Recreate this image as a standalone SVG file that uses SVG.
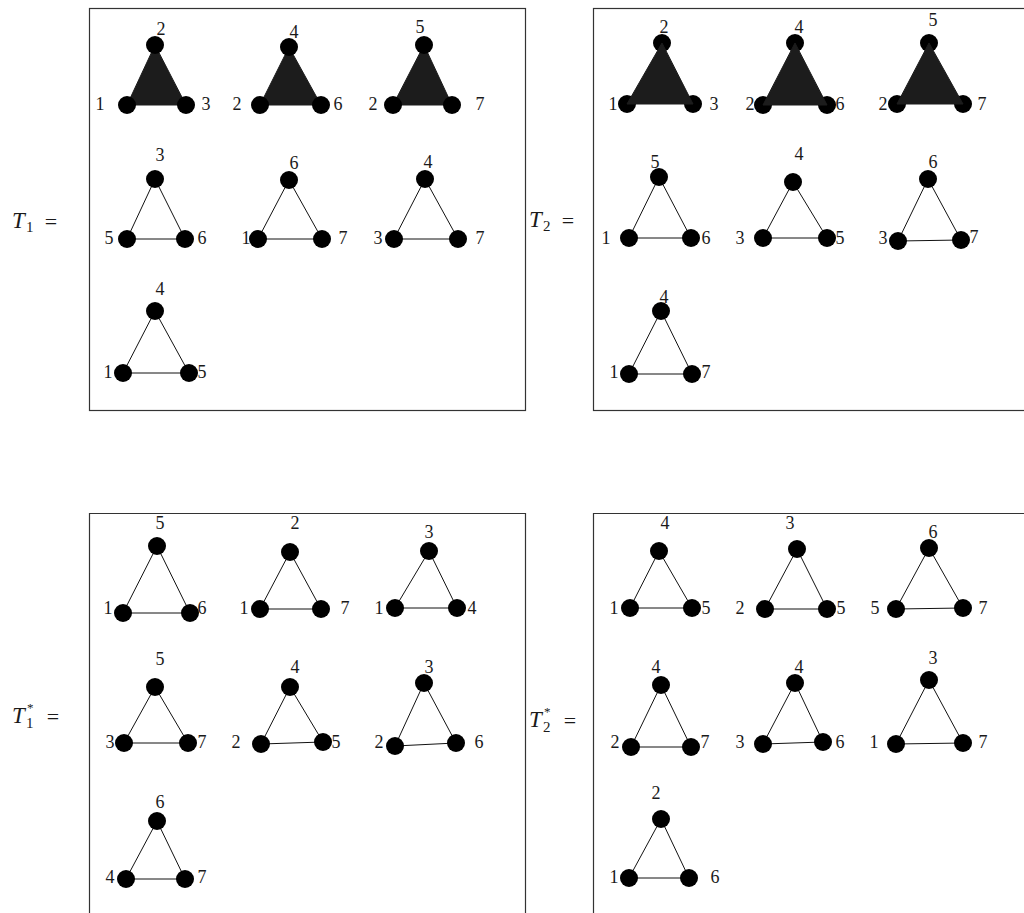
<svg xmlns="http://www.w3.org/2000/svg" width="1024" height="913" viewBox="0 0 1024 913">
<style>
.box{fill:none;stroke:#333;stroke-width:1.2}
.e{stroke:#111;stroke-width:1;fill:none}
.face{fill:#1c1c1c;stroke:#1c1c1c;stroke-width:1;stroke-linejoin:round}
circle{fill:#000}
text{font-family:"Liberation Serif","DejaVu Serif",serif;fill:#1a1a1a}
.l{font-size:18px;text-anchor:middle}
.T{font-size:23px;font-style:italic}
.s{font-size:15px}
.st{font-size:13px}
.eq{font-size:22px;text-anchor:middle}
</style>
<rect width="1024" height="913" fill="#fff"/>
<g id="frames">
<rect class="box" x="89.5" y="8.5" width="436" height="402"/>
<rect class="box" x="593.5" y="8.5" width="440" height="402"/>
<path class="box" d="M89.5,913 V513.5 H525.5 V913"/>
<path class="box" d="M593.5,913 V513.5 H1030"/>
</g>
<g id="titles">
<text class="T" x="12" y="228">T</text><text class="s" x="26" y="232">1</text><text class="eq" x="51" y="229">=</text>
<text class="T" x="529" y="227">T</text><text class="s" x="543" y="231">2</text><text class="eq" x="568" y="228">=</text>
<text class="T" x="12" y="723">T</text><text class="s" x="26" y="728">1</text><text class="st" x="27" y="712">*</text><text class="eq" x="53" y="724">=</text>
<text class="T" x="529" y="727">T</text><text class="s" x="543" y="732">2</text><text class="st" x="544" y="716">*</text><text class="eq" x="570" y="728">=</text>
</g>
<g id="connectors">
<polygon class="face" points="155,45 127,105 186,105"/>
<polygon class="face" points="289,47 260,105 321,105"/>
<polygon class="face" points="424,45 393,105 452,105"/>
<path class="e" d="M155,179 L127,239 L185,239 Z"/>
<path class="e" d="M289,180 L258,239 L322,239 Z"/>
<path class="e" d="M425,179 L394,239 L458,239 Z"/>
<path class="e" d="M155,311 L123,373 L189,373 Z"/>
<path class="e" d="M659,177 L629,238 L691,238 Z"/>
<path class="e" d="M793,182 L763,238 L827,238 Z"/>
<path class="e" d="M928,179 L898,241 L961,240 Z"/>
<path class="e" d="M661,311 L629,374 L692,374 Z"/>
<path class="e" d="M157,546 L123,613 L190,613 Z"/>
<path class="e" d="M290,552 L260,609 L321,609 Z"/>
<path class="e" d="M429,551 L395,608 L457,608 Z"/>
<path class="e" d="M155,687 L124,743 L188,743 Z"/>
<path class="e" d="M290,687 L261,744 L323,742 Z"/>
<path class="e" d="M424,683 L395,746 L456,743 Z"/>
<path class="e" d="M157,821 L126,879 L185,879 Z"/>
<path class="e" d="M659,551 L630,608 L692,608 Z"/>
<path class="e" d="M797,549 L765,609 L827,609 Z"/>
<path class="e" d="M929,548 L896,609 L963,608 Z"/>
<path class="e" d="M661,685 L631,747 L691,747 Z"/>
<path class="e" d="M795,683 L763,744 L823,742 Z"/>
<path class="e" d="M929,680 L896,744 L963,743 Z"/>
<path class="e" d="M661,819 L629,878 L689,878 Z"/>
</g>
<g id="t1a"><circle cx="155" cy="45" r="9"/><text class="l" x="161" y="35">2</text><circle cx="127" cy="105" r="9"/><text class="l" x="100" y="110">1</text><circle cx="186" cy="105" r="9"/><text class="l" x="206" y="110">3</text></g>
<g id="t1b"><circle cx="289" cy="47" r="9"/><text class="l" x="294" y="38">4</text><circle cx="260" cy="105" r="9"/><text class="l" x="237" y="110">2</text><circle cx="321" cy="105" r="9"/><text class="l" x="338" y="110">6</text></g>
<g id="t1c"><circle cx="424" cy="45" r="9"/><text class="l" x="420" y="33">5</text><circle cx="393" cy="105" r="9"/><text class="l" x="373" y="110">2</text><circle cx="452" cy="105" r="9"/><text class="l" x="480" y="110">7</text></g>
<g id="t1d"><circle cx="155" cy="179" r="9"/><text class="l" x="160" y="161">3</text><circle cx="127" cy="239" r="9"/><text class="l" x="109" y="244">5</text><circle cx="185" cy="239" r="9"/><text class="l" x="202" y="244">6</text></g>
<g id="t1e"><circle cx="289" cy="180" r="9"/><text class="l" x="294" y="169">6</text><circle cx="258" cy="239" r="9"/><text class="l" x="246" y="244">1</text><circle cx="322" cy="239" r="9"/><text class="l" x="343" y="244">7</text></g>
<g id="t1f"><circle cx="425" cy="179" r="9"/><text class="l" x="428" y="168">4</text><circle cx="394" cy="239" r="9"/><text class="l" x="378" y="244">3</text><circle cx="458" cy="239" r="9"/><text class="l" x="480" y="244">7</text></g>
<g id="t1g"><circle cx="155" cy="311" r="9"/><text class="l" x="160" y="295">4</text><circle cx="123" cy="373" r="9"/><text class="l" x="108" y="378">1</text><circle cx="189" cy="373" r="9"/><text class="l" x="202" y="378">5</text></g>
<g id="t2a"><circle cx="662" cy="43" r="9"/><text class="l" x="664" y="33">2</text><circle cx="627" cy="104" r="9"/><text class="l" x="613" y="110">1</text><circle cx="693" cy="104" r="9"/><text class="l" x="714" y="110">3</text></g>
<g id="t2b"><circle cx="795" cy="43" r="9"/><text class="l" x="799" y="33">4</text><circle cx="763" cy="105" r="9"/><text class="l" x="750" y="110">2</text><circle cx="827" cy="105" r="9"/><text class="l" x="840" y="110">6</text></g>
<g id="t2c"><circle cx="929" cy="43" r="9"/><text class="l" x="933" y="26">5</text><circle cx="897" cy="104" r="9"/><text class="l" x="883" y="110">2</text><circle cx="963" cy="104" r="9"/><text class="l" x="982" y="110">7</text></g>
<g id="t2-faces">
<polygon class="face" points="662,43 627,104 693,104"/>
<polygon class="face" points="795,43 763,105 827,105"/>
<polygon class="face" points="929,43 897,104 963,104"/>
</g>
<g id="t2d"><circle cx="659" cy="177" r="9"/><text class="l" x="655" y="168">5</text><circle cx="629" cy="238" r="9"/><text class="l" x="606" y="244">1</text><circle cx="691" cy="238" r="9"/><text class="l" x="706" y="244">6</text></g>
<g id="t2e"><circle cx="793" cy="182" r="9"/><text class="l" x="799" y="160">4</text><circle cx="763" cy="238" r="9"/><text class="l" x="740" y="244">3</text><circle cx="827" cy="238" r="9"/><text class="l" x="840" y="244">5</text></g>
<g id="t2f"><circle cx="928" cy="179" r="9"/><text class="l" x="933" y="168">6</text><circle cx="898" cy="241" r="9"/><text class="l" x="883" y="244">3</text><circle cx="961" cy="240" r="9"/><text class="l" x="974" y="243">7</text></g>
<g id="t2g"><circle cx="661" cy="311" r="9"/><text class="l" x="664" y="303">4</text><circle cx="629" cy="374" r="9"/><text class="l" x="614" y="378">1</text><circle cx="692" cy="374" r="9"/><text class="l" x="706" y="378">7</text></g>
<g id="s1a"><circle cx="157" cy="546" r="9"/><text class="l" x="160" y="529">5</text><circle cx="123" cy="613" r="9"/><text class="l" x="108" y="614">1</text><circle cx="190" cy="613" r="9"/><text class="l" x="202" y="614">6</text></g>
<g id="s1b"><circle cx="290" cy="552" r="9"/><text class="l" x="295" y="529">2</text><circle cx="260" cy="609" r="9"/><text class="l" x="244" y="614">1</text><circle cx="321" cy="609" r="9"/><text class="l" x="345" y="614">7</text></g>
<g id="s1c"><circle cx="429" cy="551" r="9"/><text class="l" x="429" y="538">3</text><circle cx="395" cy="608" r="9"/><text class="l" x="379" y="614">1</text><circle cx="457" cy="608" r="9"/><text class="l" x="472" y="614">4</text></g>
<g id="s1d"><circle cx="155" cy="687" r="9"/><text class="l" x="160" y="665">5</text><circle cx="124" cy="743" r="9"/><text class="l" x="110" y="748">3</text><circle cx="188" cy="743" r="9"/><text class="l" x="202" y="748">7</text></g>
<g id="s1e"><circle cx="290" cy="687" r="9"/><text class="l" x="295" y="673">4</text><circle cx="261" cy="744" r="9"/><text class="l" x="236" y="748">2</text><circle cx="323" cy="742" r="9"/><text class="l" x="336" y="748">5</text></g>
<g id="s1f"><circle cx="424" cy="683" r="9"/><text class="l" x="429" y="673">3</text><circle cx="395" cy="746" r="9"/><text class="l" x="379" y="748">2</text><circle cx="456" cy="743" r="9"/><text class="l" x="479" y="748">6</text></g>
<g id="s1g"><circle cx="157" cy="821" r="9"/><text class="l" x="160" y="808">6</text><circle cx="126" cy="879" r="9"/><text class="l" x="110" y="883">4</text><circle cx="185" cy="879" r="9"/><text class="l" x="202" y="883">7</text></g>
<g id="s2a"><circle cx="659" cy="551" r="9"/><text class="l" x="665" y="529">4</text><circle cx="630" cy="608" r="9"/><text class="l" x="614" y="614">1</text><circle cx="692" cy="608" r="9"/><text class="l" x="706" y="614">5</text></g>
<g id="s2b"><circle cx="797" cy="549" r="9"/><text class="l" x="790" y="529">3</text><circle cx="765" cy="609" r="9"/><text class="l" x="740" y="614">2</text><circle cx="827" cy="609" r="9"/><text class="l" x="841" y="614">5</text></g>
<g id="s2c"><circle cx="929" cy="548" r="9"/><text class="l" x="933" y="538">6</text><circle cx="896" cy="609" r="9"/><text class="l" x="875" y="614">5</text><circle cx="963" cy="608" r="9"/><text class="l" x="983" y="614">7</text></g>
<g id="s2d"><circle cx="661" cy="685" r="9"/><text class="l" x="656" y="673">4</text><circle cx="631" cy="747" r="9"/><text class="l" x="615" y="748">2</text><circle cx="691" cy="747" r="9"/><text class="l" x="705" y="748">7</text></g>
<g id="s2e"><circle cx="795" cy="683" r="9"/><text class="l" x="799" y="673">4</text><circle cx="763" cy="744" r="9"/><text class="l" x="740" y="748">3</text><circle cx="823" cy="742" r="9"/><text class="l" x="840" y="748">6</text></g>
<g id="s2f"><circle cx="929" cy="680" r="9"/><text class="l" x="933" y="664">3</text><circle cx="896" cy="744" r="9"/><text class="l" x="874" y="748">1</text><circle cx="963" cy="743" r="9"/><text class="l" x="983" y="748">7</text></g>
<g id="s2g"><circle cx="661" cy="819" r="9"/><text class="l" x="656" y="799">2</text><circle cx="629" cy="878" r="9"/><text class="l" x="614" y="883">1</text><circle cx="689" cy="878" r="9"/><text class="l" x="715" y="883">6</text></g>
</svg>
